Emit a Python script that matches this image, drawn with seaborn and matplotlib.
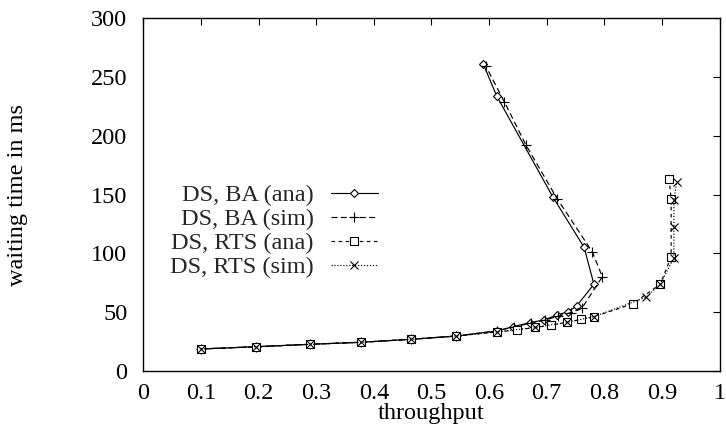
import matplotlib
matplotlib.use("Agg")
import matplotlib.pyplot as plt
import seaborn as sns
import pandas as pd

# Throughput vs. waiting time, analytic model vs. simulation
ba_ana_x = [0.1, 0.195, 0.29, 0.378, 0.464, 0.543, 0.613, 0.642, 0.671, 0.695,
            0.7185, 0.7365, 0.752, 0.782, 0.765, 0.7105, 0.613, 0.590]
ba_ana_y = [18.5, 20.4, 22.5, 24.2, 26.7, 29.5, 33.8, 37.5, 40.9, 43.2,
            47.4, 50.2, 55.1, 73.6, 105.0, 148.1, 234.1, 261.1]

ba_sim_x = [0.1, 0.195, 0.29, 0.378, 0.464, 0.543, 0.614, 0.644, 0.672, 0.697,
            0.72, 0.742, 0.761, 0.7966, 0.779, 0.7185, 0.664, 0.6265, 0.594]
ba_sim_y = [18.5, 20.4, 22.5, 24.2, 26.7, 29.5, 34.0, 37.2, 40.5, 43.0,
            46.5, 49.5, 53.1, 80.0, 101.3, 146.2, 192.1, 229.0, 259.6]

rts_ana_x = [0.1, 0.195, 0.29, 0.378, 0.464, 0.543, 0.613, 0.648, 0.68, 0.7076,
             0.735, 0.759, 0.782, 0.849, 0.897, 0.916, 0.916, 0.9125]
rts_ana_y = [18.5, 20.4, 22.5, 24.2, 26.7, 29.5, 33.0, 34.6, 36.8, 38.9,
             41.2, 43.6, 46.0, 56.8, 73.6, 97.0, 146.2, 163.2]

rts_sim_x = [0.1, 0.195, 0.29, 0.378, 0.464, 0.543, 0.613, 0.68, 0.735, 0.782,
             0.8724, 0.897, 0.9208, 0.9208, 0.9208, 0.9257]
rts_sim_y = [18.5, 20.4, 22.5, 24.2, 26.7, 29.5, 33.0, 36.8, 41.2, 46.0,
             62.5, 73.6, 96.2, 122.6, 145.3, 160.4]

labels = ["DS, BA (ana)", "DS, BA (sim)", "DS, RTS (ana)", "DS, RTS (sim)"]
x_ticks = [0, 0.1, 0.2, 0.3, 0.4, 0.5, 0.6, 0.7, 0.8, 0.9, 1]
x_ticklabels = ["0", "0.1", "0.2", "0.3", "0.4", "0.5", "0.6", "0.7", "0.8", "0.9", "1"]
y_ticks = [0, 50, 100, 150, 200, 250, 300]

FS = 17.5

sns.set_theme(style="white")
plt.rcParams["font.family"] = ["Liberation Serif", "DejaVu Serif"]

fig = plt.figure(figsize=(7.26, 4.40), dpi=100)
ax = fig.add_axes([0.1974, 0.1575, 0.7937, 0.8009])

styles = [
    dict(marker="D", markersize=4.5, linestyle="-"),
    dict(marker="+", markersize=7, linestyle=(0, (5, 3))),
    dict(marker="s", markersize=6, linestyle=(0, (3, 3))),
    dict(marker="x", markersize=6, linestyle=(0, (1, 1.5))),
]
series = [(ba_ana_x, ba_ana_y), (ba_sim_x, ba_sim_y),
          (rts_ana_x, rts_ana_y), (rts_sim_x, rts_sim_y)]

for (xs, ys), lab, st in zip(series, labels, styles):
    df = pd.DataFrame({"throughput": xs, "wait": ys})
    sns.lineplot(data=df, x="throughput", y="wait", sort=False, estimator=None,
                 ax=ax, color="black", linewidth=0.85, label=lab,
                 markerfacecolor="white", markeredgecolor="black",
                 markeredgewidth=0.8, **st)

ax.set_xlim(0, 1)
ax.set_ylim(0, 300)
ax.set_xticks(x_ticks)
ax.set_xticklabels(x_ticklabels)
ax.set_yticks(y_ticks)
ax.tick_params(axis="both", direction="in", length=5, width=0.8,
               top=True, right=True, labelsize=FS, colors="black")
ax.tick_params(axis="x", pad=8.5)
ax.tick_params(axis="y", pad=11.5)
for sp in ax.spines.values():
    sp.set_visible(True)
    sp.set_color("black")
    sp.set_linewidth(1.0)

ax.set_xlabel("throughput", fontsize=FS, color="black")
ax.set_ylabel("waiting time in ms", fontsize=FS, color="black")
ax.xaxis.set_label_coords(0.5, -0.092)
ax.yaxis.set_label_coords(-0.2, 0.5)

leg = ax.legend(loc="upper right", bbox_to_anchor=(0.4073, 0.529),
                frameon=False, markerfirst=False, fontsize=FS,
                handlelength=1.95, handletextpad=0.7, labelspacing=0.08,
                borderpad=0, borderaxespad=0)

fig.savefig("out.png", dpi=100)
